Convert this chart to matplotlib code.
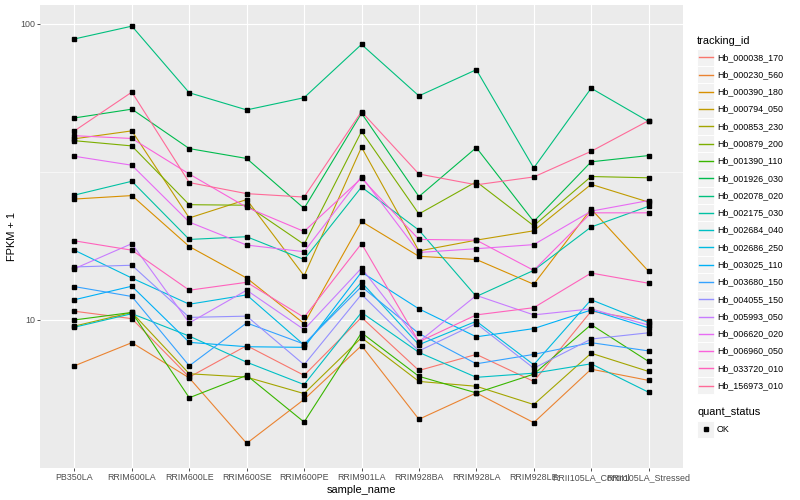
import numpy as np
import matplotlib
matplotlib.use("Agg")
import matplotlib.pyplot as plt
from matplotlib.lines import Line2D
from matplotlib.patches import Rectangle

plt.rcParams['font.family'] = ['Liberation Sans', 'DejaVu Sans']

samples = ["PB350LA", "RRIM600LA", "RRIM600LE", "RRIM600SE", "RRIM600PE",
           "RRIM901LA", "RRIM928BA", "RRIM928LA", "RRIM928LE",
           "RRII105LA_Control", "RRII105LA_Stressed"]

tracking_ids = ["Hb_000038_170", "Hb_000230_560", "Hb_000390_180", "Hb_000794_050",
                "Hb_000853_230", "Hb_000879_200", "Hb_001390_110", "Hb_001926_030",
                "Hb_002078_020", "Hb_002175_030", "Hb_002684_040", "Hb_002686_250",
                "Hb_003025_110", "Hb_003680_150", "Hb_004055_150", "Hb_005993_050",
                "Hb_006620_020", "Hb_006960_050", "Hb_033720_010", "Hb_156973_010"]

# FPKM + 1 per sample (order of `samples`)
hb_000038_170 = [10.7, 10.1, 6.41, 8.19, 6.5, 10.2, 6.75, 7.65, 6.2, 10.7, 9.92]
hb_000230_560 = [7.0, 8.38, 6.37, 3.83, 5.39, 8.19, 4.62, 5.67, 4.50, 6.82, 6.25]
hb_000390_180 = [25.6, 26.3, 17.7, 13.85, 9.72, 21.5, 16.4, 16.0, 13.2, 23.7, 14.6]
hb_000794_050 = [40.9, 43.5, 22.1, 25.5, 14.1, 38.3, 17.1, 18.6, 20.0, 28.7, 25.0]
hb_000853_230 = [9.53, 10.6, 6.58, 6.41, 5.64, 8.71, 6.2, 5.97, 5.18, 7.72, 6.70]
hb_000879_200 = [40.3, 38.7, 24.5, 24.4, 18.0, 43.3, 22.8, 29.3, 20.8, 30.5, 30.2]
hb_001390_110 = [10.0, 10.6, 5.46, 6.5, 4.52, 9.05, 6.45, 5.67, 6.56, 9.64, 7.24]
hb_001926_030 = [48.1, 51.5, 37.9, 35.1, 23.8, 49.9, 26.1, 38.2, 21.5, 34.2, 35.9]
hb_002078_020 = [88.9, 98.2, 58.5, 51.2, 56.3, 85.2, 57.1, 70.0, 32.6, 60.6, 46.8]
hb_002175_030 = [26.4, 29.4, 18.7, 19.1, 16.0, 28.1, 20.1, 12.0, 14.7, 20.6, 24.2]
hb_002684_040 = [9.45, 10.5, 8.82, 7.2, 6.05, 10.6, 7.77, 6.4, 6.61, 7.11, 5.70]
hb_002686_250 = [17.2, 13.85, 11.3, 12.15, 8.23, 13.4, 8.25, 9.9, 7.06, 11.7, 9.79]
hb_003025_110 = [11.7, 13.0, 8.4, 8.12, 8.08, 14.5, 10.9, 8.77, 9.35, 10.8, 9.4]
hb_003680_150 = [12.96, 12.0, 7.0, 9.77, 8.29, 12.96, 9.0, 7.11, 7.65, 8.38, 7.86]
hb_004055_150 = [15.1, 15.3, 10.2, 10.3, 7.06, 12.2, 7.86, 9.72, 6.87, 8.62, 9.05]
hb_005993_050 = [14.9, 18.1, 9.77, 12.6, 9.28, 14.96, 8.44, 12.1, 10.4, 10.9, 9.6]
hb_006620_020 = [35.7, 33.3, 21.4, 17.9, 17.0, 30.5, 16.9, 17.4, 17.96, 23.3, 25.3]
hb_006960_050 = [41.9, 41.0, 31.1, 24.0, 19.9, 30.1, 18.7, 18.6, 14.7, 23.0, 23.0]
hb_033720_010 = [18.5, 17.2, 12.6, 13.4, 10.2, 18.1, 8.44, 10.4, 11.0, 14.4, 13.3]
hb_156973_010 = [43.5, 58.8, 29.1, 26.7, 26.0, 50.5, 31.1, 28.6, 30.4, 37.1, 47.1]

series_values = [hb_000038_170, hb_000230_560, hb_000390_180, hb_000794_050,
                 hb_000853_230, hb_000879_200, hb_001390_110, hb_001926_030,
                 hb_002078_020, hb_002175_030, hb_002684_040, hb_002686_250,
                 hb_003025_110, hb_003680_150, hb_004055_150, hb_005993_050,
                 hb_006620_020, hb_006960_050, hb_033720_010, hb_156973_010]

quant_status = ["OK"]


def hcl_to_rgb(h, c=100.0, l=65.0):
    XN, YN, ZN = 95.047, 100.0, 108.883
    hr = np.deg2rad(h)
    U = c * np.cos(hr)
    V = c * np.sin(hr)
    Y = YN * ((l + 16.0) / 116.0) ** 3
    t = XN + YN + ZN
    x = XN / t
    y = YN / t
    u0 = 2 * x / (6 * y - x + 1.5)
    v0 = 4.5 * y / (6 * y - x + 1.5)
    u = U / (13 * l) + u0
    v = V / (13 * l) + v0
    X = 9.0 * Y * u / (4 * v)
    Z = -X / 3 - 5 * Y + 3 * Y / v
    X, Y, Z = X / 100, Y / 100, Z / 100
    r = 3.240479 * X - 1.537150 * Y - 0.498535 * Z
    g = -0.969256 * X + 1.875992 * Y + 0.041556 * Z
    b = 0.055648 * X - 0.204043 * Y + 1.057311 * Z

    def gam(vv):
        vv = 12.92 * vv if vv <= 0.0031308 else 1.055 * vv ** (1 / 2.4) - 0.055
        return min(max(vv, 0.0), 1.0)
    return (gam(r), gam(g), gam(b))


n = len(tracking_ids)
hues = np.linspace(15, 375, n + 1)[:n]
colors = [hcl_to_rgb(h) for h in hues]

W, H = 800, 500
fig = plt.figure(figsize=(8, 5), dpi=100)
fig.patch.set_facecolor("white")

pl, pr, pt, pb = 40, 683, 5, 468
ax = fig.add_axes([pl / W, 1 - pb / H, (pr - pl) / W, (pb - pt) / H])
ax.set_facecolor("#EBEBEB")
for s in ax.spines.values():
    s.set_visible(False)

ax.set_yscale("log")
ymin = 10 ** (1 + (323 - pb) / 299.0)
ymax = 10 ** (1 + (323 - pt) / 299.0)
ax.set_ylim(ymin, ymax)
xs = np.arange(len(samples))
ax.set_xlim(-0.6, len(samples) - 1 + 0.6)

ax.set_yticks([10, 100])
ax.set_yticklabels(["10", "100"])
ax.set_yticks([10 ** 0.5, 10 ** 1.5], minor=True)
ax.yaxis.set_minor_formatter(matplotlib.ticker.NullFormatter())
ax.set_xticks(xs)
ax.set_xticklabels(samples)

ax.grid(True, which="major", color="white", linewidth=0.8)
ax.grid(True, which="minor", axis="y", color="white", linewidth=0.4)
ax.tick_params(axis="y", which="minor", length=0)
ax.tick_params(axis="both", which="major", length=2.2, width=0.6, color="#333333",
               labelsize=6.4, labelcolor="#4D4D4D", pad=1.5)
ax.set_axisbelow(True)

for vals, col in zip(series_values, colors):
    ax.plot(xs, vals, color=col, linewidth=0.8, solid_capstyle="butt", zorder=2)
for vals in series_values:
    ax.plot(xs, vals, linestyle="none", marker="s", markersize=2.2,
            color="black", zorder=3)

ax.set_xlabel("sample_name", fontsize=7.9, labelpad=2)
ax.set_ylabel("FPKM + 1", fontsize=7.9, labelpad=2)


def fx(x):
    return x / W


def fy(y):
    return 1 - y / H


fig.text(fx(697), fy(40.7), "tracking_id", fontsize=7.9, va="center", ha="left")
row0, dy = 57.3, 17.28
kx0, kw = 697, 17
for i, (name, col) in enumerate(zip(tracking_ids, colors)):
    yc = row0 + i * dy
    fig.add_artist(Rectangle((fx(kx0), fy(yc + dy / 2)), kw / W, dy / H,
                             transform=fig.transFigure, facecolor="#F2F2F2",
                             edgecolor="white", linewidth=0.7, zorder=1))
    fig.add_artist(Line2D([fx(kx0 + 1.5), fx(kx0 + kw - 1.5)], [fy(yc), fy(yc)],
                          transform=fig.transFigure, color=col, linewidth=1.0,
                          zorder=3))
    fig.text(fx(717), fy(yc), name, fontsize=6.4, va="center", ha="left")

fig.text(fx(697), fy(412.3), "quant_status", fontsize=7.9, va="center", ha="left")
yc = 429.3
for i, q in enumerate(quant_status):
    fig.add_artist(Rectangle((fx(kx0), fy(yc + dy / 2)), kw / W, dy / H,
                             transform=fig.transFigure, facecolor="#F2F2F2",
                             edgecolor="white", linewidth=0.7, zorder=1))
    fig.add_artist(Line2D([fx(kx0 + kw / 2)], [fy(yc)], transform=fig.transFigure,
                          marker="s", markersize=2.2, color="black", linestyle="none",
                          zorder=3))
    fig.text(fx(717), fy(yc), q, fontsize=6.4, va="center", ha="left")

fig.savefig("out.png", dpi=100)
